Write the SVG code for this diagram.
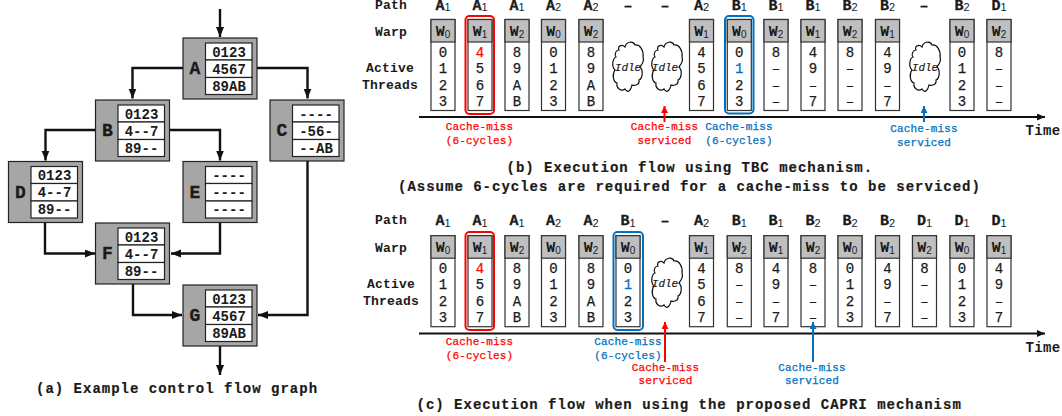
<svg xmlns="http://www.w3.org/2000/svg" width="1062" height="416" viewBox="0 0 1062 416">
<style>
text{font-family:"Liberation Mono","Courier New",monospace;font-weight:bold;fill:#1a1a1a}
.cap{font-size:14px;letter-spacing:1px;stroke:#1a1a1a;stroke-width:.2}
.lab{font-size:13px;letter-spacing:.2px;text-anchor:middle}
.cell{font-size:14px;text-anchor:middle}
.nl{font-size:18px;text-anchor:middle;stroke:#1a1a1a;stroke-width:.3}
.p{font-size:15px;text-anchor:middle;stroke:#1a1a1a;stroke-width:.3}
.w{font-size:15px;text-anchor:middle}
.v{font-size:14px;text-anchor:middle;font-weight:normal;stroke:#1a1a1a;stroke-width:.25}
.s{font-family:"Liberation Sans",Arial,sans-serif;font-weight:normal;stroke:none}
.ps{font-size:11px}
.ws{font-size:10px}
.r{fill:#f00!important}
.b{fill:#0070c0!important}
.m{font-size:11px;letter-spacing:.13px;text-anchor:middle;font-weight:normal;stroke-width:.25}
.mr{stroke:#f00}
.mb{stroke:#0070c0}
.idle{font-size:11px;font-style:italic;text-anchor:middle;font-weight:normal;stroke:#1a1a1a;stroke-width:.2}
.nb{fill:#a6a6a6;stroke:#222;stroke-width:1.2}
.tb{fill:#fff;stroke:#222;stroke-width:1.2}
.hd{fill:#bfbfbf;stroke:#333;stroke-width:1.2}
.bd{fill:#fff;stroke:#333;stroke-width:1.2}
.cl{fill:#fff;stroke:#111;stroke-width:1.2}
.wire{fill:none;stroke:#111;stroke-width:2.4;marker-end:url(#ak)}
.axis{fill:none;stroke:#111;stroke-width:2;marker-end:url(#ak2)}
.hlr{fill:none;stroke:#f00;stroke-width:2}
.hlb{fill:none;stroke:#0070c0;stroke-width:2}
.ar{stroke:#f00;stroke-width:2;marker-end:url(#akr)}
.ab{stroke:#0070c0;stroke-width:2;marker-end:url(#akb)}
</style>
<defs>
<marker id="ak" markerUnits="userSpaceOnUse" markerWidth="11" markerHeight="10" refX="10" refY="4" orient="auto"><path d="M0 0L10 4L0 8Z" fill="#111"/></marker>
<marker id="ak2" markerUnits="userSpaceOnUse" markerWidth="9" markerHeight="8" refX="8" refY="3.5" orient="auto"><path d="M0 0L8 3.5L0 7Z" fill="#111"/></marker>
<marker id="akr" markerUnits="userSpaceOnUse" markerWidth="9" markerHeight="8" refX="7" refY="3.5" orient="auto"><path d="M0 0L7 3.5L0 7Z" fill="#f00"/></marker>
<marker id="akb" markerUnits="userSpaceOnUse" markerWidth="9" markerHeight="8" refX="7" refY="3.5" orient="auto"><path d="M0 0L7 3.5L0 7Z" fill="#0070c0"/></marker>
<g id="nbox"><rect class="nb" width="74" height="61"/><rect class="tb" x="22.5" y="5" width="46.5" height="17"/><rect class="tb" x="22.5" y="22" width="46.5" height="17.500"/><rect class="tb" x="22.5" y="39.500" width="46.500" height="17"/></g>
<g id="col"><rect class="bd" width="24" height="91"/><rect class="hd" width="24" height="22.500"/></g>
<path id="cloud" class="cl" d="M6 8C4 4 9 2 12 5C13 0 20-2 22 3C27 2 31 9 30 15C32 20 28 23 27 25C31 29 29 37 26 38C27 43 21 44 19 43C18 48 15 52 12 47C8 50 3 46 4 41C0 40-1 32 2 28C-2 24 0 16 3 15C1 12 3 8 6 8Z"/>
</defs>

<g id="connectors">
<path class="wire" d="M220 9V37"/>
<path class="wire" d="M183 68H132.500V98.500"/>
<path class="wire" d="M257 68H307.500V98.500"/>
<path class="wire" d="M95.500 130H45.500V160.500"/>
<path class="wire" d="M170 130H220V160.500"/>
<path class="wire" d="M45 223V253.500H95"/>
<path class="wire" d="M220 223V253.500H171"/>
<path class="wire" d="M307.500 161V315H258"/>
<path class="wire" d="M133 284V315H182"/>
<path class="wire" d="M220 346V375"/>
</g>

<g id="node-A" transform="translate(183 38)"><use href="#nbox"/><text class="nl" x="12" y="36">A</text><text class="cell" x="46" y="18.500">0123</text><text class="cell" x="46" y="35.500">4567</text><text class="cell" x="46" y="52.500">89AB</text></g>
<g id="node-B" transform="translate(95.500 100)"><use href="#nbox"/><text class="nl" x="12" y="36">B</text><text class="cell" x="46" y="18.500">0123</text><text class="cell" x="46" y="35.500">4--7</text><text class="cell" x="46" y="52.500">89--</text></g>
<g id="node-C" transform="translate(270 100)"><use href="#nbox"/><text class="nl" x="12" y="36">C</text><text class="cell" x="46" y="18.500">----</text><text class="cell" x="46" y="35.500">-56-</text><text class="cell" x="46" y="52.500">--AB</text></g>
<g id="node-D" transform="translate(8.500 161.500)"><use href="#nbox"/><text class="nl" x="12" y="36">D</text><text class="cell" x="46" y="18.500">0123</text><text class="cell" x="46" y="35.500">4--7</text><text class="cell" x="46" y="52.500">89--</text></g>
<g id="node-E" transform="translate(183 161.500)"><use href="#nbox"/><text class="nl" x="12" y="36">E</text><text class="cell" x="46" y="18.500">----</text><text class="cell" x="46" y="35.500">----</text><text class="cell" x="46" y="52.500">----</text></g>
<g id="node-F" transform="translate(95.500 223)"><use href="#nbox"/><text class="nl" x="12" y="36">F</text><text class="cell" x="46" y="18.500">0123</text><text class="cell" x="46" y="35.500">4--7</text><text class="cell" x="46" y="52.500">89--</text></g>
<g id="node-G" transform="translate(183 285)"><use href="#nbox"/><text class="nl" x="12" y="36">G</text><text class="cell" x="46" y="18.500">0123</text><text class="cell" x="46" y="35.500">4567</text><text class="cell" x="46" y="52.500">89AB</text></g>
<text class="cap" x="36" y="393">(a) Example control flow graph</text>

<g id="flow-b">
<text class="lab" x="391" y="9">Path</text><text class="lab" x="391" y="36">Warp</text><text class="lab" x="390" y="72">Active</text><text class="lab" x="390" y="89">Threads</text>
<g id="b1" transform="translate(431 19.500)"><use href="#col"/><text class="p" x="12" y="-9.500">A<tspan class="s ps" dy="1">1</tspan></text><text class="w" x="12" y="16">W<tspan class="s ws" dy="2">0</tspan></text><text class="v" x="12" y="37">0</text><text class="v" x="12" y="53.500">1</text><text class="v" x="12" y="70">2</text><text class="v" x="12" y="86.500">3</text></g>
<g id="b2" transform="translate(468 19.500)"><use href="#col"/><text class="p" x="12" y="-9.500">A<tspan class="s ps" dy="1">1</tspan></text><text class="w" x="12" y="16">W<tspan class="s ws" dy="2">1</tspan></text><text class="v r mr" x="12" y="37">4</text><text class="v" x="12" y="53.500">5</text><text class="v" x="12" y="70">6</text><text class="v" x="12" y="86.500">7</text></g>
<g id="b3" transform="translate(505 19.500)"><use href="#col"/><text class="p" x="12" y="-9.500">A<tspan class="s ps" dy="1">1</tspan></text><text class="w" x="12" y="16">W<tspan class="s ws" dy="2">2</tspan></text><text class="v" x="12" y="37">8</text><text class="v" x="12" y="53.500">9</text><text class="v" x="12" y="70">A</text><text class="v" x="12" y="86.500">B</text></g>
<g id="b4" transform="translate(541.500 19.500)"><use href="#col"/><text class="p" x="12" y="-9.500">A<tspan class="s ps" dy="1">2</tspan></text><text class="w" x="12" y="16">W<tspan class="s ws" dy="2">0</tspan></text><text class="v" x="12" y="37">0</text><text class="v" x="12" y="53.500">1</text><text class="v" x="12" y="70">2</text><text class="v" x="12" y="86.500">3</text></g>
<g id="b5" transform="translate(579 19.500)"><use href="#col"/><text class="p" x="12" y="-9.500">A<tspan class="s ps" dy="1">2</tspan></text><text class="w" x="12" y="16">W<tspan class="s ws" dy="2">2</tspan></text><text class="v" x="12" y="37">8</text><text class="v" x="12" y="53.500">9</text><text class="v" x="12" y="70">A</text><text class="v" x="12" y="86.500">B</text></g>
<g id="b6"><text class="p" x="628" y="10">–</text><use href="#cloud" x="613" y="42"/><text class="idle" x="628" y="71">Idle</text></g>
<g id="b7"><text class="p" x="665" y="10">–</text><use href="#cloud" x="652" y="42"/><text class="idle" x="665" y="71">Idle</text></g>
<g id="b8" transform="translate(689.500 19.500)"><use href="#col"/><text class="p" x="12" y="-9.500">A<tspan class="s ps" dy="1">2</tspan></text><text class="w" x="12" y="16">W<tspan class="s ws" dy="2">1</tspan></text><text class="v" x="12" y="37">4</text><text class="v" x="12" y="53.500">5</text><text class="v" x="12" y="70">6</text><text class="v" x="12" y="86.500">7</text></g>
<g id="b9" transform="translate(727.300 19.500)"><use href="#col"/><text class="p" x="12" y="-9.500">B<tspan class="s ps" dy="1">1</tspan></text><text class="w" x="12" y="16">W<tspan class="s ws" dy="2">0</tspan></text><text class="v" x="12" y="37">0</text><text class="v b mb" x="12" y="53.500">1</text><text class="v" x="12" y="70">2</text><text class="v" x="12" y="86.500">3</text></g>
<g id="b10" transform="translate(764 19.500)"><use href="#col"/><text class="p" x="12" y="-9.500">B<tspan class="s ps" dy="1">1</tspan></text><text class="w" x="12" y="16">W<tspan class="s ws" dy="2">2</tspan></text><text class="v" x="12" y="37">8</text><text class="v" x="12" y="53.500">–</text><text class="v" x="12" y="70">–</text><text class="v" x="12" y="86.500">–</text></g>
<g id="b11" transform="translate(801 19.500)"><use href="#col"/><text class="p" x="12" y="-9.500">B<tspan class="s ps" dy="1">1</tspan></text><text class="w" x="12" y="16">W<tspan class="s ws" dy="2">1</tspan></text><text class="v" x="12" y="37">4</text><text class="v" x="12" y="53.500">9</text><text class="v" x="12" y="70">–</text><text class="v" x="12" y="86.500">7</text></g>
<g id="b12" transform="translate(838 19.500)"><use href="#col"/><text class="p" x="12" y="-9.500">B<tspan class="s ps" dy="1">2</tspan></text><text class="w" x="12" y="16">W<tspan class="s ws" dy="2">2</tspan></text><text class="v" x="12" y="37">8</text><text class="v" x="12" y="53.500">–</text><text class="v" x="12" y="70">–</text><text class="v" x="12" y="86.500">–</text></g>
<g id="b13" transform="translate(875.500 19.500)"><use href="#col"/><text class="p" x="12" y="-9.500">B<tspan class="s ps" dy="1">2</tspan></text><text class="w" x="12" y="16">W<tspan class="s ws" dy="2">1</tspan></text><text class="v" x="12" y="37">4</text><text class="v" x="12" y="53.500">9</text><text class="v" x="12" y="70">–</text><text class="v" x="12" y="86.500">7</text></g>
<g id="b14"><text class="p" x="924" y="10">–</text><use href="#cloud" x="910" y="42"/><text class="idle" x="925" y="71">Idle</text></g>
<g id="b15" transform="translate(950 19.500)"><use href="#col"/><text class="p" x="12" y="-9.500">B<tspan class="s ps" dy="1">2</tspan></text><text class="w" x="12" y="16">W<tspan class="s ws" dy="2">0</tspan></text><text class="v" x="12" y="37">0</text><text class="v" x="12" y="53.500">1</text><text class="v" x="12" y="70">2</text><text class="v" x="12" y="86.500">3</text></g>
<g id="b16" transform="translate(987 19.500)"><use href="#col"/><text class="p" x="12" y="-9.500">D<tspan class="s ps" dy="1">1</tspan></text><text class="w" x="12" y="16">W<tspan class="s ws" dy="2">2</tspan></text><text class="v" x="12" y="37">8</text><text class="v" x="12" y="53.500">–</text><text class="v" x="12" y="70">–</text><text class="v" x="12" y="86.500">–</text></g>
<rect class="hlr" x="465.500" y="16" width="28.500" height="98" rx="4"/>
<rect class="hlb" x="725" y="16" width="28.500" height="97.500" rx="4"/>
<path class="axis" d="M419 117H1045"/>
<path class="ar" d="M664.500 122V106"/>
<path class="ab" d="M924 122V106"/>
<text class="m r mr" x="479.500" y="130">Cache-miss</text><text class="m r mr" x="479.500" y="144">(6-cycles)</text>
<text class="m r mr" x="664.500" y="130">Cache-miss</text><text class="m r mr" x="664.500" y="144">serviced</text>
<text class="m b mb" x="739" y="130">Cache-miss</text><text class="m b mb" x="739" y="144">(6-cycles)</text>
<text class="m b mb" x="924" y="132">Cache-miss</text><text class="m b mb" x="924" y="146">serviced</text>
<text class="lab" x="1043" y="134.500" style="font-size:14px;letter-spacing:.3px">Time</text>
<text class="cap" x="506.500" y="172">(b) Execution flow using TBC mechanism.</text>
<text class="cap" x="398" y="191">(Assume 6-cycles are required for a cache-miss to be serviced)</text>
</g>

<g id="flow-c">
<text class="lab" x="391" y="224">Path</text><text class="lab" x="391" y="252">Warp</text><text class="lab" x="391" y="288">Active</text><text class="lab" x="391" y="305">Threads</text>
<g id="c1" transform="translate(431 235.700)"><use href="#col"/><text class="p" x="12" y="-11">A<tspan class="s ps" dy="2">1</tspan></text><text class="w" x="12" y="16">W<tspan class="s ws" dy="2">0</tspan></text><text class="v" x="12" y="37">0</text><text class="v" x="12" y="53.500">1</text><text class="v" x="12" y="70">2</text><text class="v" x="12" y="86.500">3</text></g>
<g id="c2" transform="translate(468 235.700)"><use href="#col"/><text class="p" x="12" y="-11">A<tspan class="s ps" dy="2">1</tspan></text><text class="w" x="12" y="16">W<tspan class="s ws" dy="2">1</tspan></text><text class="v r mr" x="12" y="37">4</text><text class="v" x="12" y="53.500">5</text><text class="v" x="12" y="70">6</text><text class="v" x="12" y="86.500">7</text></g>
<g id="c3" transform="translate(505 235.700)"><use href="#col"/><text class="p" x="12" y="-11">A<tspan class="s ps" dy="2">1</tspan></text><text class="w" x="12" y="16">W<tspan class="s ws" dy="2">2</tspan></text><text class="v" x="12" y="37">8</text><text class="v" x="12" y="53.500">9</text><text class="v" x="12" y="70">A</text><text class="v" x="12" y="86.500">B</text></g>
<g id="c4" transform="translate(541.500 235.700)"><use href="#col"/><text class="p" x="12" y="-11">A<tspan class="s ps" dy="2">2</tspan></text><text class="w" x="12" y="16">W<tspan class="s ws" dy="2">0</tspan></text><text class="v" x="12" y="37">0</text><text class="v" x="12" y="53.500">1</text><text class="v" x="12" y="70">2</text><text class="v" x="12" y="86.500">3</text></g>
<g id="c5" transform="translate(579 235.700)"><use href="#col"/><text class="p" x="12" y="-11">A<tspan class="s ps" dy="2">2</tspan></text><text class="w" x="12" y="16">W<tspan class="s ws" dy="2">2</tspan></text><text class="v" x="12" y="37">8</text><text class="v" x="12" y="53.500">9</text><text class="v" x="12" y="70">A</text><text class="v" x="12" y="86.500">B</text></g>
<g id="c6" transform="translate(616 235.700)"><use href="#col"/><text class="p" x="12" y="-11">B<tspan class="s ps" dy="2">1</tspan></text><text class="w" x="12" y="16">W<tspan class="s ws" dy="2">0</tspan></text><text class="v" x="12" y="37">0</text><text class="v b mb" x="12" y="53.500">1</text><text class="v" x="12" y="70">2</text><text class="v" x="12" y="86.500">3</text></g>
<g id="c7"><text class="p" x="665" y="225">–</text><use href="#cloud" x="652" y="258"/><text class="idle" x="665" y="287">Idle</text></g>
<g id="c8" transform="translate(689.500 235.700)"><use href="#col"/><text class="p" x="12" y="-11">A<tspan class="s ps" dy="2">2</tspan></text><text class="w" x="12" y="16">W<tspan class="s ws" dy="2">1</tspan></text><text class="v" x="12" y="37">4</text><text class="v" x="12" y="53.500">5</text><text class="v" x="12" y="70">6</text><text class="v" x="12" y="86.500">7</text></g>
<g id="c9" transform="translate(727.300 235.700)"><use href="#col"/><text class="p" x="12" y="-11">B<tspan class="s ps" dy="2">1</tspan></text><text class="w" x="12" y="16">W<tspan class="s ws" dy="2">2</tspan></text><text class="v" x="12" y="37">8</text><text class="v" x="12" y="53.500">–</text><text class="v" x="12" y="70">–</text><text class="v" x="12" y="86.500">–</text></g>
<g id="c10" transform="translate(764 235.700)"><use href="#col"/><text class="p" x="12" y="-11">B<tspan class="s ps" dy="2">1</tspan></text><text class="w" x="12" y="16">W<tspan class="s ws" dy="2">1</tspan></text><text class="v" x="12" y="37">4</text><text class="v" x="12" y="53.500">9</text><text class="v" x="12" y="70">–</text><text class="v" x="12" y="86.500">7</text></g>
<g id="c11" transform="translate(801 235.700)"><use href="#col"/><text class="p" x="12" y="-11">B<tspan class="s ps" dy="2">2</tspan></text><text class="w" x="12" y="16">W<tspan class="s ws" dy="2">2</tspan></text><text class="v" x="12" y="37">8</text><text class="v" x="12" y="53.500">–</text><text class="v" x="12" y="70">–</text><text class="v" x="12" y="86.500">–</text></g>
<g id="c12" transform="translate(838 235.700)"><use href="#col"/><text class="p" x="12" y="-11">B<tspan class="s ps" dy="2">2</tspan></text><text class="w" x="12" y="16">W<tspan class="s ws" dy="2">0</tspan></text><text class="v" x="12" y="37">0</text><text class="v" x="12" y="53.500">1</text><text class="v" x="12" y="70">2</text><text class="v" x="12" y="86.500">3</text></g>
<g id="c13" transform="translate(875.500 235.700)"><use href="#col"/><text class="p" x="12" y="-11">B<tspan class="s ps" dy="2">2</tspan></text><text class="w" x="12" y="16">W<tspan class="s ws" dy="2">1</tspan></text><text class="v" x="12" y="37">4</text><text class="v" x="12" y="53.500">9</text><text class="v" x="12" y="70">–</text><text class="v" x="12" y="86.500">7</text></g>
<g id="c14" transform="translate(912.500 235.700)"><use href="#col"/><text class="p" x="12" y="-11">D<tspan class="s ps" dy="2">1</tspan></text><text class="w" x="12" y="16">W<tspan class="s ws" dy="2">2</tspan></text><text class="v" x="12" y="37">8</text><text class="v" x="12" y="53.500">–</text><text class="v" x="12" y="70">–</text><text class="v" x="12" y="86.500">–</text></g>
<g id="c15" transform="translate(950 235.700)"><use href="#col"/><text class="p" x="12" y="-11">D<tspan class="s ps" dy="2">1</tspan></text><text class="w" x="12" y="16">W<tspan class="s ws" dy="2">0</tspan></text><text class="v" x="12" y="37">0</text><text class="v" x="12" y="53.500">1</text><text class="v" x="12" y="70">2</text><text class="v" x="12" y="86.500">3</text></g>
<g id="c16" transform="translate(987 235.700)"><use href="#col"/><text class="p" x="12" y="-11">D<tspan class="s ps" dy="2">1</tspan></text><text class="w" x="12" y="16">W<tspan class="s ws" dy="2">1</tspan></text><text class="v" x="12" y="37">4</text><text class="v" x="12" y="53.500">9</text><text class="v" x="12" y="70">–</text><text class="v" x="12" y="86.500">7</text></g>
<rect class="hlr" x="465.500" y="232" width="28.500" height="98" rx="4"/>
<rect class="hlb" x="613.500" y="232" width="29.500" height="98" rx="4"/>
<path class="axis" d="M419 333.500H1045"/>
<path class="ar" d="M665 362V322"/>
<path class="ab" d="M813 362V322"/>
<text class="m r mr" x="479.500" y="345">Cache-miss</text><text class="m r mr" x="479.500" y="359">(6-cycles)</text>
<text class="m b mb" x="628" y="345">Cache-miss</text><text class="m b mb" x="628" y="359">(6-cycles)</text>
<text class="m r mr" x="665.500" y="371">Cache-miss</text><text class="m r mr" x="665.500" y="384">serviced</text>
<text class="m b mb" x="812" y="371">Cache-miss</text><text class="m b mb" x="812" y="384">serviced</text>
<text class="lab" x="1043" y="352" style="font-size:14px;letter-spacing:.3px">Time</text>
<text class="cap" x="416.500" y="409">(c) Execution flow when using the proposed CAPRI mechanism</text>
</g>
</svg>
